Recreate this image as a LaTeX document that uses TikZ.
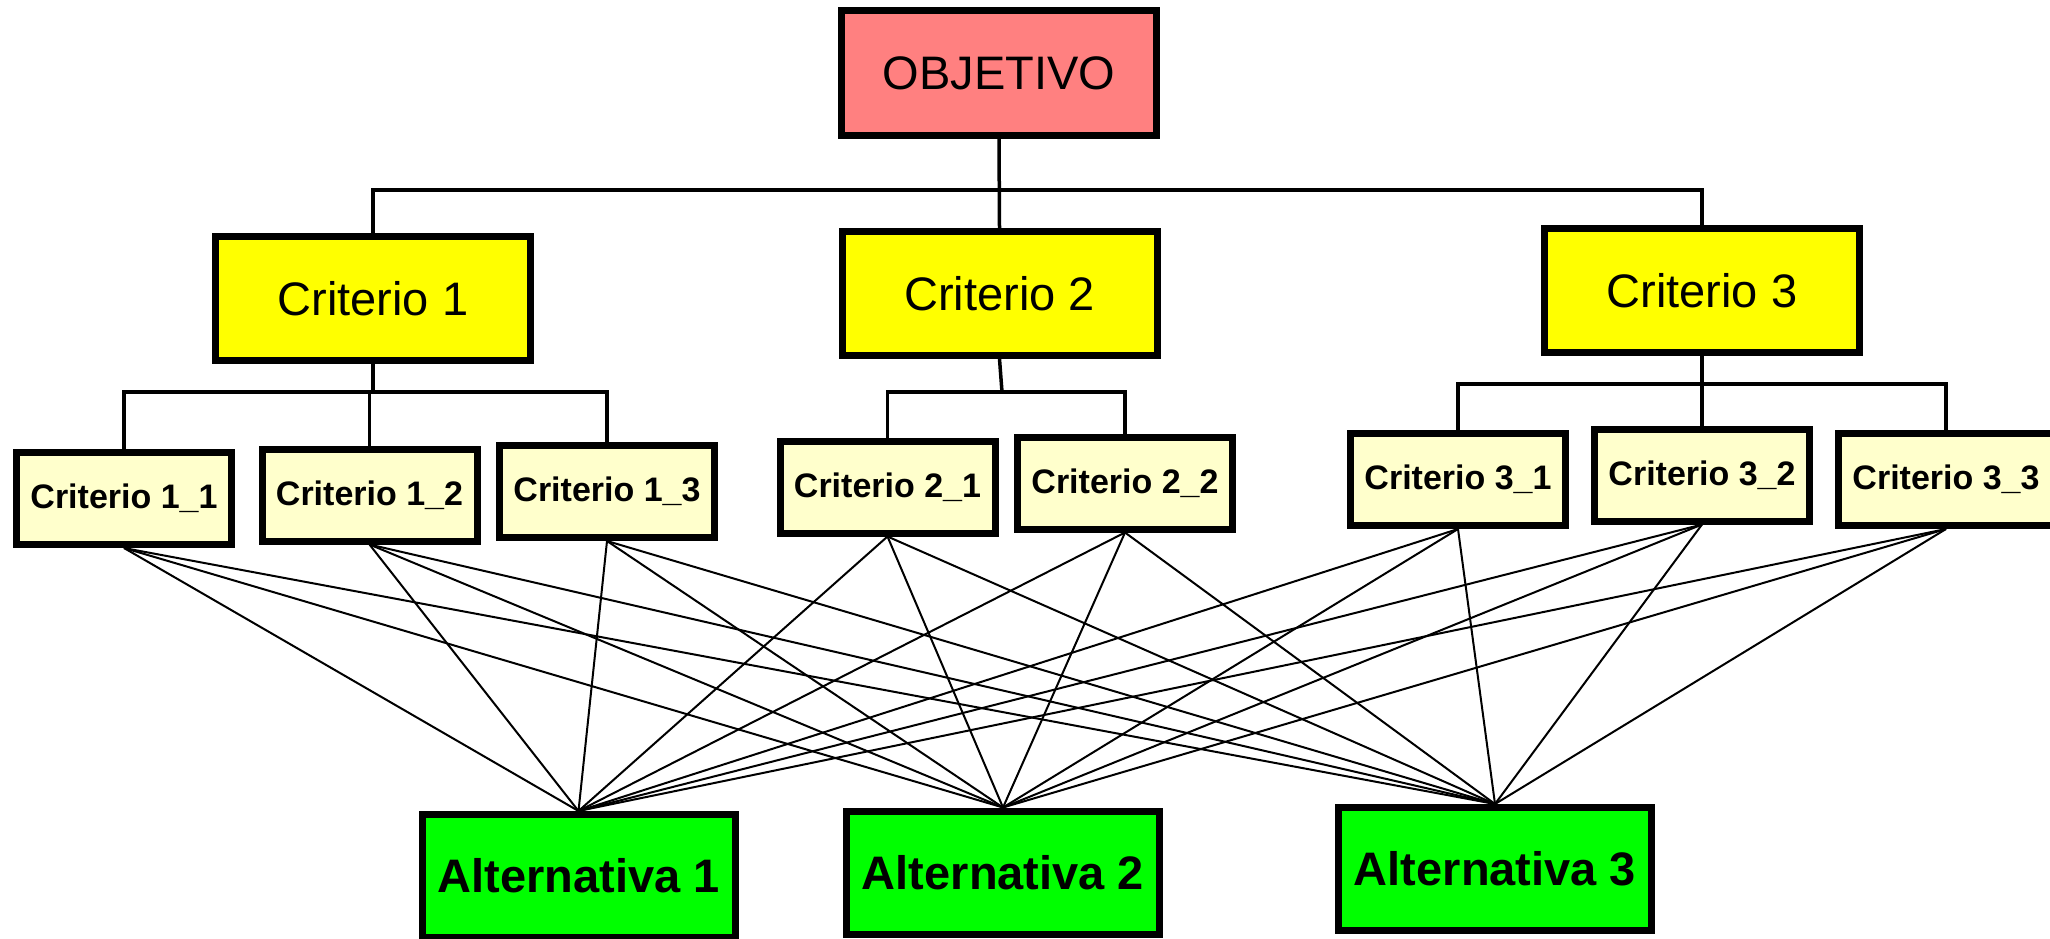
\documentclass[tikz,border=0pt]{standalone}
\usepackage{fontspec}
\setmainfont{Liberation Sans}
\usetikzlibrary{positioning, calc}

\definecolor{goalred}{HTML}{FF8080}
\definecolor{crityellow}{HTML}{FFFF00}
\definecolor{subyellow}{HTML}{FFFFCC}
\definecolor{altgreen}{HTML}{00FF00}

\begin{document}
\begin{tikzpicture}[x=1pt, y=-1pt]
    \tikzstyle{goal} = [rectangle, draw, line width=7pt, fill=goalred, minimum width=315pt, minimum height=125pt, inner sep=0pt, font=\fontsize{47}{50}\selectfont]
    \tikzstyle{crit} = [goal, fill=crityellow, minimum height=124pt]
    \tikzstyle{sub} = [rectangle, draw, line width=7pt, fill=subyellow, minimum width=215pt, minimum height=92pt, inner sep=0pt, font=\fontsize{34}{38}\selectfont\bfseries]
    \tikzstyle{alt} = [rectangle, draw, line width=7pt, fill=altgreen, minimum width=313pt, minimum height=123pt, inner sep=0pt, font=\fontsize{47}{50}\selectfont\bfseries]
    \tikzstyle{tree} = [line width=3.5pt]
    \tikzstyle{link} = [line width=2pt]

    \useasboundingbox (0,0) rectangle (2050,939);

    % Define nodes
    \node[goal] (obj) at (999,73) {OBJETIVO};
    \node[crit] (c1) at (373,298.5) {Criterio 1};
    \node[crit] (c2) at (999.5,293.5) {Criterio 2};
    \node[crit] (c3) at (1702,290.5) {Criterio 3};

    \node[sub] (c11) at (124,498.5) {Criterio 1\_1};
    \node[sub] (c12) at (369.5,495) {Criterio 1\_2};
    \node[sub] (c13) at (607,491.5) {Criterio 1\_3};
    \node[sub] (c21) at (887.5,487) {Criterio 2\_1};
    \node[sub] (c22) at (1125,483) {Criterio 2\_2};
    \node[sub] (c31) at (1458,479.5) {Criterio 3\_1};
    \node[sub] (c32) at (1702,475) {Criterio 3\_2};
    \node[sub] (c33) at (1946,479.5) {Criterio 3\_3};

    \node[alt] (a1) at (578.5,876) {Alternativa 1};
    \node[alt] (a2) at (1003,872.5) {Alternativa 2};
    \node[alt] (a3) at (1495,869) {Alternativa 3};

    % Bus points
    \coordinate (bus0) at (999,190);
    \coordinate (bus1) at (373,392);
    \coordinate (bus2) at (1002,392);
    \coordinate (bus3) at (1702,384);

    % Draw tree edges
    \draw[tree] (obj.south) -- (c2.north);
    \draw[tree] (c1.north) |- (bus0) -| (c3.north);
    \draw[tree] (c1.south) -- (bus1);
    \draw[tree] (c11.north) |- (bus1) -| (c13.north);
    \draw[tree] (c12.north) -- (c12.north |- bus1);
    \draw[tree] (c2.south) -- (bus2);
    \draw[tree] (c21.north) |- (bus2) -| (c22.north);
    \draw[tree] (c3.south) -- (c32.north);
    \draw[tree] (c31.north) |- (bus3) -| (c33.north);

    % Draw links to alternatives
    \foreach \s in {c11,c12,c13,c21,c22,c31,c32,c33}
        \foreach \a in {a1,a2,a3}
            \draw[link] (\s.south) -- (\a.north);
\end{tikzpicture}
\end{document}
